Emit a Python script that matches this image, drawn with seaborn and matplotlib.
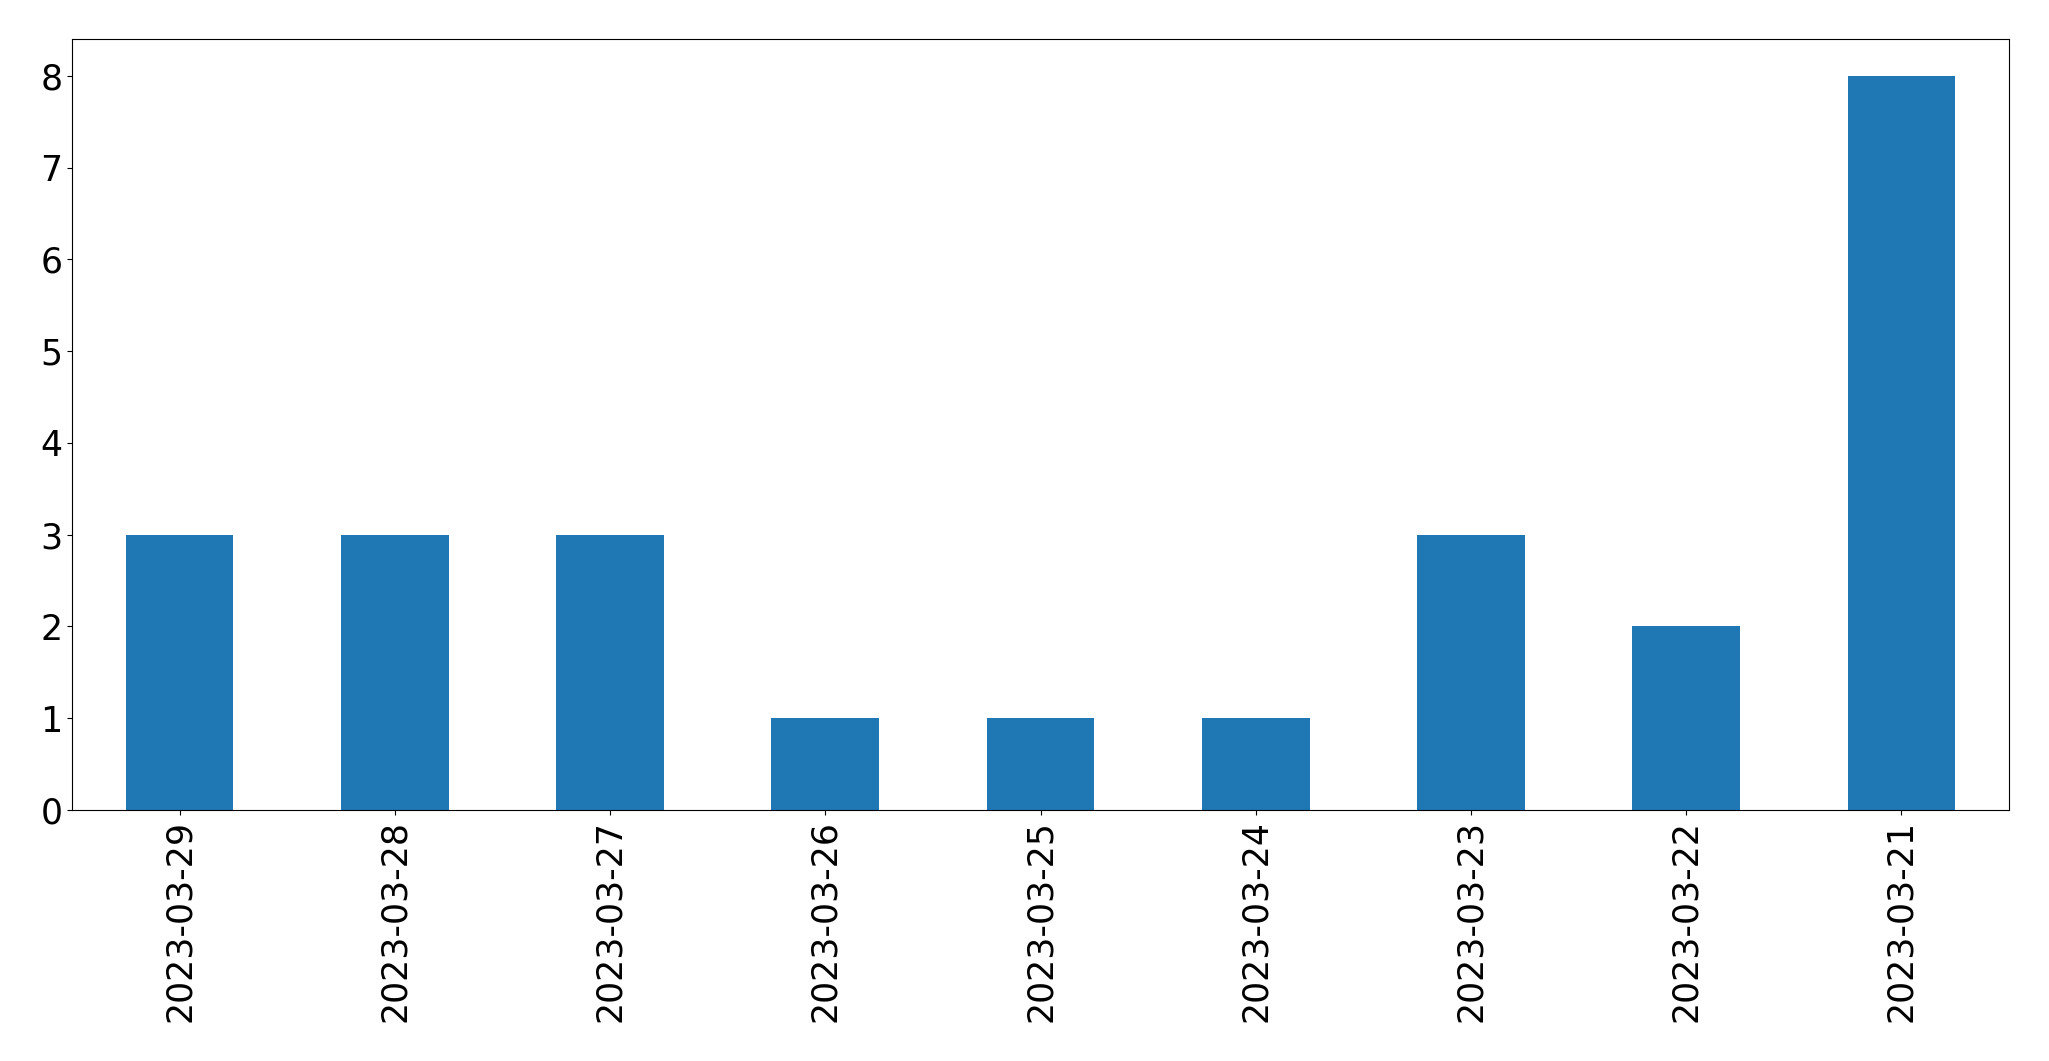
import matplotlib
matplotlib.use("Agg")
import matplotlib.pyplot as plt
import seaborn as sns
import pandas as pd

dates = ["2023-03-29", "2023-03-28", "2023-03-27", "2023-03-26", "2023-03-25",
         "2023-03-24", "2023-03-23", "2023-03-22", "2023-03-21"]
counts = [3, 3, 3, 1, 1, 1, 3, 2, 8]

df = pd.DataFrame({"date": dates, "count": counts})

fig = plt.figure(figsize=(20.49, 10.61), dpi=100)
ax = fig.add_axes([72/2049, 1 - 810/1061, (2009-72)/2049, (810-39)/1061])
sns.barplot(data=df, x="date", y="count", order=dates, color="#1f77b4",
            saturation=1, width=0.5, ax=ax)
ax.set_xlabel("")
ax.set_ylabel("")
ax.set_ylim(0, 8.4)
ax.tick_params(axis="both", labelsize=25)
ax.tick_params(axis="x", rotation=90)
for s in ax.spines.values():
    s.set_visible(True)
fig.savefig("out.png", dpi=100)
